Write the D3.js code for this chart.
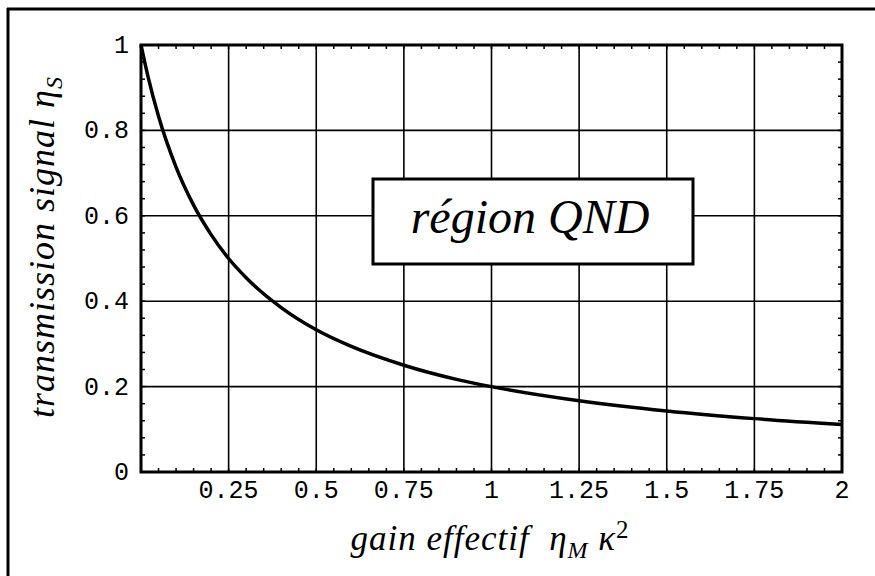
<!DOCTYPE html>
<html>
<head>
<meta charset="utf-8">
<script src="https://cdn.jsdelivr.net/npm/d3@7"></script>
<style>
  body { margin: 0; background: #fff; }
  .ticklbl { font-family: 'Liberation Mono', 'DejaVu Sans Mono', monospace; font-size: 25px; fill: #000; }
  .lbl { font-family: 'Liberation Serif', 'Times New Roman', serif; font-style: italic; fill: #000; }
</style>
</head>
<body>
<div id="graf"></div>
<script>
// valeurs
const gain = [0, 0.02, 0.05, 0.1, 0.15, 0.2, 0.25, 0.3, 0.4, 0.5, 0.6, 0.75, 0.9, 1, 1.25, 1.5, 1.75, 2]
const transmission = [1, 0.926, 0.833, 0.714, 0.625, 0.556, 0.5, 0.455, 0.385, 0.333, 0.294, 0.25, 0.217, 0.2, 0.167, 0.143, 0.125, 0.111]
const xTicks = [0.25, 0.5, 0.75, 1, 1.25, 1.5, 1.75, 2]
const yTicks = [0, 0.2, 0.4, 0.6, 0.8, 1]
const xMinor = d3.range(0, 2.0001, 0.05)
const yMinor = d3.range(0, 1.0001, 0.04)

const anchoTotal = 875
const altoTotal = 576

const svg = d3.select('#graf')
  .append('svg')
  .attr('width', anchoTotal)
  .attr('height', altoTotal)

// cadre extérieur
svg.append('line').attr('x1', 8).attr('x2', 8).attr('y1', 8).attr('y2', altoTotal)
  .attr('stroke', '#000').attr('stroke-width', 3)
svg.append('line').attr('x1', 7).attr('x2', anchoTotal).attr('y1', 9).attr('y2', 9)
  .attr('stroke', '#000').attr('stroke-width', 3)

const margin = { top: 45, left: 141, right: 33, bottom: 104 }
const ancho = anchoTotal - margin.left - margin.right
const alto = altoTotal - margin.top - margin.bottom

const g = svg.append('g')
  .attr('transform', `translate(${margin.left}, ${margin.top})`)

const x = d3.scaleLinear().domain([0, 2]).range([0, ancho])
const y = d3.scaleLinear().domain([0, 1]).range([alto, 0])

// grille
g.append('g')
  .selectAll('line').data(xTicks.slice(0, -1))
  .join('line')
  .attr('x1', d => x(d)).attr('x2', d => x(d))
  .attr('y1', 0).attr('y2', alto)
  .attr('stroke', '#000').attr('stroke-width', 1.6)

g.append('g')
  .selectAll('line').data(yTicks.slice(1, -1))
  .join('line')
  .attr('x1', 0).attr('x2', ancho)
  .attr('y1', d => y(d)).attr('y2', d => y(d))
  .attr('stroke', '#000').attr('stroke-width', 1.6)

// petites graduations sur les quatre côtés
const ticksG = g.append('g').attr('stroke', '#000').attr('stroke-width', 1.5)
ticksG.selectAll('.tb').data(xMinor).join('line').attr('class', 'tb')
  .attr('x1', d => x(d)).attr('x2', d => x(d)).attr('y1', alto).attr('y2', alto - 4)
ticksG.selectAll('.tt').data(xMinor).join('line').attr('class', 'tt')
  .attr('x1', d => x(d)).attr('x2', d => x(d)).attr('y1', 0).attr('y2', 4)
ticksG.selectAll('.tl').data(yMinor).join('line').attr('class', 'tl')
  .attr('x1', 0).attr('x2', 4).attr('y1', d => y(d)).attr('y2', d => y(d))
ticksG.selectAll('.tr').data(yMinor).join('line').attr('class', 'tr')
  .attr('x1', ancho).attr('x2', ancho - 4).attr('y1', d => y(d)).attr('y2', d => y(d))

// cadre du graphe
g.append('rect')
  .attr('x', 0).attr('y', 0).attr('width', ancho).attr('height', alto)
  .attr('fill', 'none').attr('stroke', '#000').attr('stroke-width', 3)

// étiquettes des axes
g.selectAll('.xl').data(xTicks).join('text')
  .attr('class', 'ticklbl')
  .attr('x', d => x(d))
  .attr('y', alto + 26)
  .attr('text-anchor', 'middle')
  .text(d => d)

g.selectAll('.yl').data(yTicks).join('text')
  .attr('class', 'ticklbl')
  .attr('x', -12)
  .attr('y', d => y(d) + 8)
  .attr('text-anchor', 'end')
  .text(d => d)

// courbe
const data = gain.map((d, i) => ({ gain: d, eta: transmission[i] }))
g.append('path')
  .datum(data)
  .attr('fill', 'none')
  .attr('stroke', '#000')
  .attr('stroke-width', 3.5)
  .attr('d', d3.line().x(d => x(d.gain)).y(d => y(d.eta)).curve(d3.curveMonotoneX))

// encadré
g.append('rect')
  .attr('x', 232).attr('y', 134).attr('width', 320).attr('height', 85)
  .attr('fill', '#fff').attr('stroke', '#000').attr('stroke-width', 3)
g.append('text')
  .attr('class', 'lbl')
  .attr('x', 232 + 157).attr('y', 188)
  .attr('text-anchor', 'middle')
  .attr('font-size', 48)
  .text('région QND')

// titres des axes
const xt = svg.append('text')
  .attr('class', 'lbl')
  .attr('x', 490).attr('y', 550)
  .attr('text-anchor', 'middle')
  .attr('font-size', 35)
  .attr('letter-spacing', 1)
xt.append('tspan').text('gain effectif\u00a0\u00a0η')
xt.append('tspan').attr('font-size', 24).attr('dy', 8).text('M')
xt.append('tspan').attr('dy', -8).text('\u00a0κ')
xt.append('tspan').attr('font-size', 25).attr('dy', -12).attr('font-style', 'normal').text('2')

const yt = svg.append('text')
  .attr('class', 'lbl')
  .attr('transform', 'translate(54, 247) rotate(-90)')
  .attr('text-anchor', 'middle')
  .attr('font-size', 36)
  .attr('letter-spacing', 1)
yt.append('tspan').text('transmission signal η')
yt.append('tspan').attr('font-size', 24).attr('dy', 8).text('S')
</script>
</body>
</html>
